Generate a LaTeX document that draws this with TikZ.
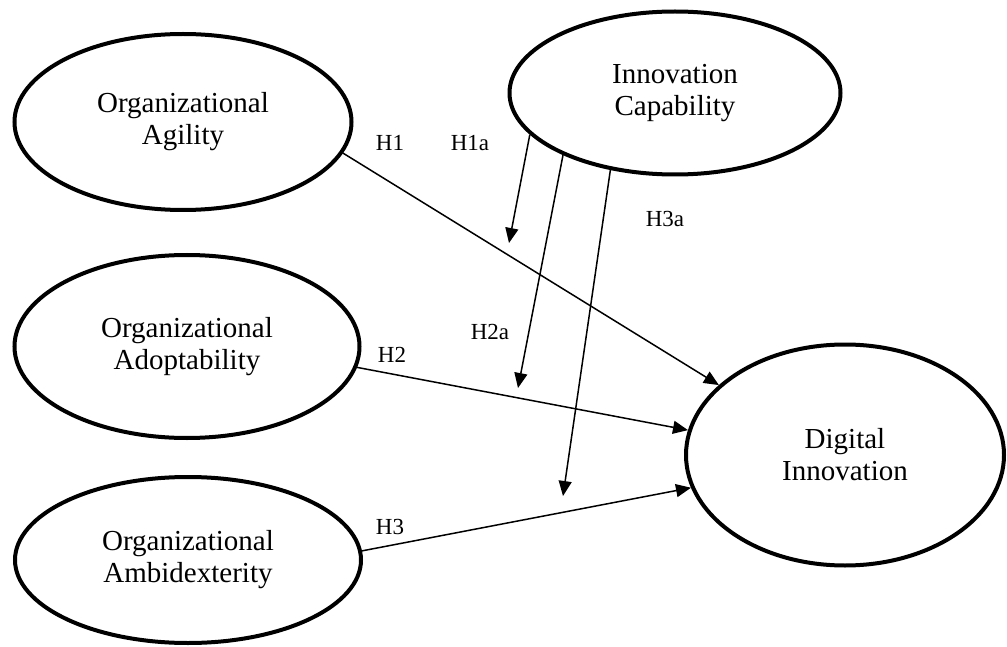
\documentclass[tikz,border=0pt]{standalone}
\usepackage{fontspec}
\setmainfont{Liberation Serif}
\usetikzlibrary{shapes,arrows.meta,positioning}

\begin{document}
\begin{tikzpicture}[x=1pt,y=-1pt,node distance=40pt]
        \tikzstyle{construct}=[ellipse, draw=black, line width=4pt, fill=white, align=center, font=\fontsize{29}{32}\selectfont]
        \tikzstyle{path}=[-{Triangle[length=15pt,width=13pt]}, line width=1.5pt]
        \tikzstyle{hyp}=[font=\fontsize{23}{26}\selectfont, inner sep=0pt]
        \useasboundingbox (0,0) rectangle (1007,647);

        % Independent variables
        \node (agil) [construct, minimum width=337pt, minimum height=176pt] at (183,122) {Organizational\\Agility};
        \node (adopt) [construct, minimum width=345pt, minimum height=183pt, below=41pt of agil, xshift=4pt] {Organizational\\Adoptability};
        \node (ambid) [construct, minimum width=346pt, minimum height=166pt, below=35pt of adopt, xshift=1pt] {Organizational\\Ambidexterity};

        % Moderator
        \node (inno) [construct, minimum width=331pt, minimum height=163pt] at (675,93) {Innovation\\Capability};

        % Dependent variable
        \node (digi) [construct, minimum width=318pt, minimum height=221pt] at (845,455) {Digital\\Innovation};

        % Hypothesis labels
        \node (h1) [hyp] at (390,143) {H1};
        \node (h2) [hyp] at (392,355) {H2};
        \node (h3) [hyp] at (390,527) {H3};
        \node (h1a) [hyp] at (470,143) {H1a};
        \node (h2a) [hyp] at (490,332) {H2a};
        \node (h3a) [hyp] at (665,219) {H3a};

        % Moderation ends
        \coordinate (m1) at (509,243);
        \coordinate (m2) at (518,388);
        \coordinate (m3) at (563,496);

        % Arrows
        \draw[path] (agil.-11.7) -- (digi.151);
        \draw[path] (adopt.-7) -- (digi.171);
        \draw[path] (ambid.3.3) -- (digi.192);
        \draw[path] (inno.196.5) -- (m1);
        \draw[path] (inno.209) -- (m2);
        \draw[path] (inno.230) -- (m3);
    \end{tikzpicture}
\end{document}
